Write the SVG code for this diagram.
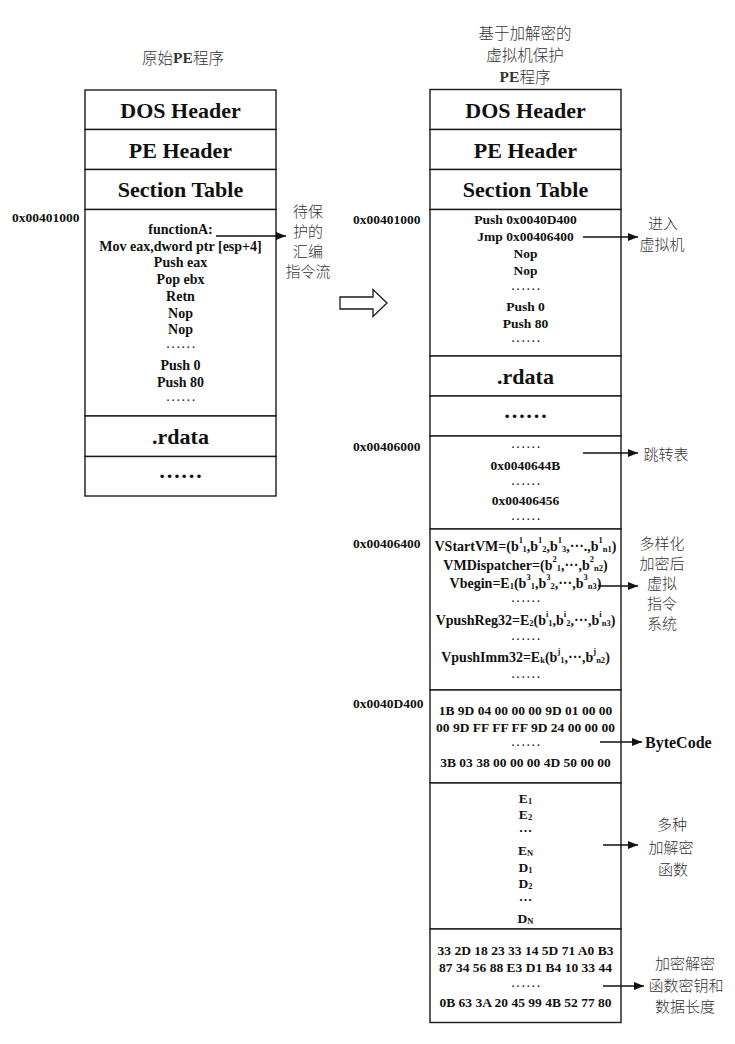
<svg xmlns="http://www.w3.org/2000/svg" width="735" height="1044" viewBox="0 0 735 1044">
<style>
text{font-family:"Liberation Serif","Noto Sans CJK SC",serif;fill:#111;dominant-baseline:central;text-anchor:middle}
.box{fill:#fff;stroke:#1a1a1a;stroke-width:1.4}
.hd{font-size:22px;font-weight:bold}
.cd{font-size:13.5px;font-weight:bold}
.cw{font-size:14px;font-weight:bold}
.dt{font-size:10px;font-weight:bold;letter-spacing:2.6px}
.ad{font-size:13.5px;font-weight:bold;text-anchor:start}
.cn{font-size:15px;font-family:"Noto Sans CJK SC","Liberation Serif",sans-serif;font-weight:300;fill:#333}
.ttl{font-size:15.5px;font-family:"Noto Sans CJK SC","Liberation Serif",sans-serif;font-weight:300;fill:#333}
.bc{font-size:16px;font-weight:bold;text-anchor:start}
.sp{font-size:8.5px;baseline-shift:6px}
.sb{font-size:8.5px;baseline-shift:-3px}
.con{stroke:#111;stroke-width:1.3;fill:none;marker-end:url(#ah)}
</style>
<defs>
<marker id="ah" viewBox="0 0 10 8" refX="10" refY="4" markerWidth="10" markerHeight="8" markerUnits="userSpaceOnUse" orient="auto">
<path d="M0,0 L10,4 L0,8 Z" fill="#111"/>
</marker>
</defs>
<rect width="735" height="1044" fill="#fff"/>

<g id="title-orig"><text class="ttl" x="183" y="57">原始<tspan font-family="Liberation Serif" font-weight="bold">PE</tspan>程序</text></g>
<g id="title-prot">
<text class="ttl" x="525" y="31.5">基于加解密的</text>
<text class="ttl" x="525" y="53.5">虚拟机保护</text>
<text class="ttl" x="525" y="76">
<tspan font-family="Liberation Serif" font-weight="bold">PE</tspan>程序</text>
</g>

<!-- left column -->
<g id="orig-dos"><rect class="box" x="85" y="90" width="191" height="39.5"/><text class="hd" x="180.5" y="110">DOS Header</text></g>
<g id="orig-pe"><rect class="box" x="85" y="129.5" width="191" height="40"/><text class="hd" x="180.5" y="150">PE Header</text></g>
<g id="orig-sec"><rect class="box" x="85" y="169.5" width="191" height="40"/><text class="hd" x="180.5" y="189.5">Section Table</text></g>
<g id="orig-code">
<rect class="box" x="85" y="209.5" width="191" height="206.5"/>
<text class="cw" x="180.5" y="229">functionA:</text>
<text class="cw" x="180.5" y="246">Mov eax,dword ptr [esp+4]</text>
<text class="cw" x="180.5" y="262">Push eax</text>
<text class="cw" x="180.5" y="279">Pop ebx</text>
<text class="cw" x="180.5" y="296">Retn</text>
<text class="cw" x="180.5" y="313">Nop</text>
<text class="cw" x="180.5" y="329">Nop</text>
<text class="dt" x="182" y="344">......</text>
<text class="cw" x="180.5" y="365">Push 0</text>
<text class="cw" x="180.5" y="382">Push 80</text>
<text class="dt" x="182" y="397">......</text>
</g>
<g id="orig-rdata"><rect class="box" x="85" y="416" width="191" height="40.5"/><text class="hd" x="180.5" y="436.5">.rdata</text></g>
<g id="orig-more"><rect class="box" x="85" y="456.5" width="191" height="39.5"/><text class="hd" x="180.5" y="470">……</text></g>
<g id="addr-orig"><text class="ad" x="12" y="217">0x00401000</text></g>
<g id="lbl-orig">
<text class="cn" x="308" y="210">待保</text>
<text class="cn" x="308" y="230">护的</text>
<text class="cn" x="308" y="250">汇编</text>
<text class="cn" x="308" y="270">指令流</text>
</g>

<!-- transform arrow -->
<g id="transform"><polygon points="340,297 373,297 373,289.5 387,303 373,316.5 373,309 340,309" fill="#fff" stroke="#1a1a1a" stroke-width="1.3"/></g>

<!-- right column -->
<g id="prot-dos"><rect class="box" x="430" y="89.5" width="191" height="40"/><text class="hd" x="525.5" y="110">DOS Header</text></g>
<g id="prot-pe"><rect class="box" x="430" y="129.5" width="191" height="40"/><text class="hd" x="525.5" y="150">PE Header</text></g>
<g id="prot-sec"><rect class="box" x="430" y="169.5" width="191" height="40"/><text class="hd" x="525.5" y="189.5">Section Table</text></g>
<g id="prot-code">
<rect class="box" x="430" y="209.5" width="191" height="146.5"/>
<text class="cd" x="525.5" y="219.5">Push 0x0040D400</text>
<text class="cd" x="525.5" y="236.5">Jmp 0x00406400</text>
<text class="cd" x="525.5" y="253.5">Nop</text>
<text class="cd" x="525.5" y="270.5">Nop</text>
<text class="dt" x="527" y="286">......</text>
<text class="cd" x="525.5" y="306">Push 0</text>
<text class="cd" x="525.5" y="323">Push 80</text>
<text class="dt" x="527" y="338">......</text>
</g>
<g id="prot-rdata"><rect class="box" x="430" y="356" width="191" height="40"/><text class="hd" x="525.5" y="376">.rdata</text></g>
<g id="prot-more"><rect class="box" x="430" y="396" width="191" height="40"/><text class="hd" x="525.5" y="410">……</text></g>
<g id="prot-jmptab">
<rect class="box" x="430" y="436" width="191" height="93"/>
<text class="dt" x="527" y="444">......</text>
<text class="cd" x="525.5" y="465">0x0040644B</text>
<text class="dt" x="527" y="481">......</text>
<text class="cd" x="525.5" y="500.5">0x00406456</text>
<text class="dt" x="527" y="516">......</text>
</g>
<g id="prot-vm">
<rect class="box" x="430" y="529" width="191" height="161"/>
<text class="cw" x="525.5" y="546">VStartVM=(b<tspan class="sp">1</tspan><tspan class="sb">1</tspan>,b<tspan class="sp">1</tspan><tspan class="sb">2</tspan>,b<tspan class="sp">1</tspan><tspan class="sb">3</tspan>,···.,b<tspan class="sp">1</tspan><tspan class="sb">n1</tspan>)</text>
<text class="cw" x="525.5" y="565">VMDispatcher=(b<tspan class="sp">2</tspan><tspan class="sb">1</tspan>,···,b<tspan class="sp">2</tspan><tspan class="sb">n2</tspan>)</text>
<text class="cw" x="525.5" y="583">Vbegin=E<tspan class="sb">1</tspan>(b<tspan class="sp">3</tspan><tspan class="sb">1</tspan>,b<tspan class="sp">3</tspan><tspan class="sb">2</tspan>,···,b<tspan class="sp">3</tspan><tspan class="sb">n3</tspan>)</text>
<text class="dt" x="527" y="598">......</text>
<text class="cw" x="525.5" y="620">VpushReg32=E<tspan class="sb">2</tspan>(b<tspan class="sp">i</tspan><tspan class="sb">1</tspan>,b<tspan class="sp">i</tspan><tspan class="sb">2</tspan>,···,b<tspan class="sp">i</tspan><tspan class="sb">n3</tspan>)</text>
<text class="dt" x="527" y="636">......</text>
<text class="cw" x="525.5" y="657">VpushImm32=E<tspan class="sb">k</tspan>(b<tspan class="sp">j</tspan><tspan class="sb">1</tspan>,···,b<tspan class="sp">j</tspan><tspan class="sb">n2</tspan>)</text>
<text class="dt" x="527" y="674">......</text>
</g>
<g id="prot-bytecode">
<rect class="box" x="430" y="690" width="191" height="93"/>
<text class="cd" x="525.5" y="710">1B 9D 04 00 00 00 9D 01 00 00</text>
<text class="cd" x="525.5" y="727">00 9D FF FF FF 9D 24 00 00 00</text>
<text class="dt" x="527" y="742">......</text>
<text class="cd" x="525.5" y="762">3B 03 38 00 00 00 4D 50 00 00</text>
</g>
<g id="prot-funcs">
<rect class="box" x="430" y="783" width="191" height="146"/>
<text class="cd" x="525.5" y="798">E<tspan class="sb">1</tspan></text>
<text class="cd" x="525.5" y="814">E<tspan class="sb">2</tspan></text>
<text class="cd" x="525.5" y="830">···</text>
<text class="cd" x="525.5" y="850">E<tspan class="sb">N</tspan></text>
<text class="cd" x="525.5" y="867">D<tspan class="sb">1</tspan></text>
<text class="cd" x="525.5" y="883">D<tspan class="sb">2</tspan></text>
<text class="cd" x="525.5" y="899">···</text>
<text class="cd" x="525.5" y="918">D<tspan class="sb">N</tspan></text>
</g>
<g id="prot-keys">
<rect class="box" x="430" y="929" width="191" height="93.5"/>
<text class="cd" x="525.5" y="950">33 2D 18 23 33 14 5D 71 A0 B3</text>
<text class="cd" x="525.5" y="967">87 34 56 88 E3 D1 B4 10 33 44</text>
<text class="dt" x="527" y="983">......</text>
<text class="cd" x="525.5" y="1002">0B 63 3A 20 45 99 4B 52 77 80</text>
</g>

<g id="addrs">
<text class="ad" x="353" y="219">0x00401000</text>
<text class="ad" x="353" y="446">0x00406000</text>
<text class="ad" x="353" y="543">0x00406400</text>
<text class="ad" x="353" y="703">0x0040D400</text>
</g>

<g id="lbl-vm-enter"><text class="cn" x="663" y="222">进入</text><text class="cn" x="662" y="243">虚拟机</text></g>
<g id="lbl-jmptab"><text class="cn" x="666" y="453">跳转表</text></g>
<g id="lbl-vm">
<text class="cn" x="662" y="542">多样化</text>
<text class="cn" x="662" y="562">加密后</text>
<text class="cn" x="662" y="582">虚拟</text>
<text class="cn" x="662" y="602">指令</text>
<text class="cn" x="662" y="622">系统</text>
</g>
<g id="lbl-bytecode"><text class="bc" x="645" y="742">ByteCode</text></g>
<g id="lbl-funcs">
<text class="cn" x="672" y="823">多种</text>
<text class="cn" x="671" y="846">加解密</text>
<text class="cn" x="673" y="868">函数</text>
</g>
<g id="lbl-keys">
<text class="cn" x="685" y="962">加密解密</text>
<text class="cn" x="686" y="984">函数密钥和</text>
<text class="cn" x="685" y="1005">数据长度</text>
</g>

<g id="connectors">
<line class="con" x1="216" y1="236" x2="286" y2="236"/>
<line class="con" x1="583" y1="237" x2="638" y2="237"/>
<line class="con" x1="583" y1="453" x2="638" y2="453"/>
<line class="con" x1="598" y1="586" x2="638" y2="586"/>
<line class="con" x1="600" y1="742" x2="642" y2="742"/>
<line class="con" x1="603" y1="845" x2="638" y2="845"/>
<line class="con" x1="603" y1="986" x2="644" y2="986"/>
</g>
</svg>
